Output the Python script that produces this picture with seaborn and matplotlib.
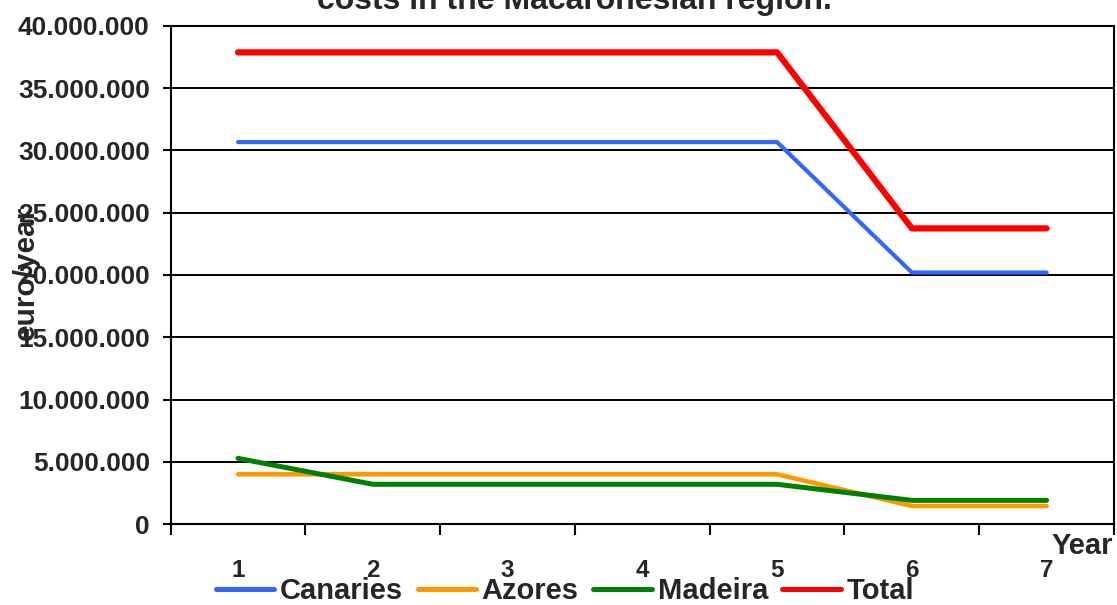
import matplotlib
matplotlib.use("Agg")
import matplotlib.pyplot as plt
import matplotlib.ticker as mticker
import seaborn as sns
import pandas as pd

years = [1, 2, 3, 4, 5, 6, 7]
canaries = [30660000, 30660000, 30660000, 30660000, 30660000, 20200000, 20200000]
azores = [4010000, 4010000, 4010000, 4010000, 4010000, 1470000, 1470000]
madeira = [5290000, 3210000, 3210000, 3210000, 3210000, 1920000, 1920000]
total = [37860000, 37860000, 37860000, 37860000, 37860000, 23740000, 23740000]
series_names = ["Canaries", "Azores", "Madeira", "Total"]
title_text = "costs in the Macaronesian region."
y_label = "euro/year"
x_label = "Year"

colors = {"Canaries": "#3366FF", "Azores": "#FF9900", "Madeira": "#008000", "Total": "#FF0000"}
widths = {"Canaries": 3.0, "Azores": 3.3, "Madeira": 3.6, "Total": 4.5}

rows = []
for name, vals in zip(series_names, [canaries, azores, madeira, total]):
    for y, v in zip(years, vals):
        rows.append({"Year": y, "value": v, "series": name})
df = pd.DataFrame(rows)

sns.set_style("white")
plt.rcParams["font.family"] = ["Liberation Sans", "DejaVu Sans"]
plt.rcParams["font.weight"] = "bold"

fig = plt.figure(figsize=(11.17, 6.05), dpi=100)
ax = fig.add_axes([170.7 / 1117, (605 - 524.3) / 605, (1114 - 170.7) / 1117, (524.3 - 25.7) / 605])

for name in series_names:
    sub = df[df["series"] == name]
    sns.lineplot(data=sub, x="Year", y="value", ax=ax, color=colors[name],
                 linewidth=widths[name], solid_capstyle="round", solid_joinstyle="round",
                 label=name, sort=False, legend=False)

ax.set_xlim(0.5, 7.5)
ax.set_ylim(0, 40000000)
ax.set_yticks(range(0, 40000001, 5000000))
ax.yaxis.set_major_formatter(mticker.FuncFormatter(lambda v, p: f"{v:,.0f}".replace(",", ".")))
ax.yaxis.grid(True, color="black", linewidth=1.4)
ax.set_axisbelow(True)

ax.set_xticks(years)
ax.set_xticklabels([str(y) for y in years])
ax.set_xticks([x + 0.5 for x in [0] + years], minor=True)
ax.tick_params(axis="x", which="major", length=0, pad=25, labelsize=17.5)
ax.tick_params(axis="x", which="minor", length=8, width=1.5, direction="out", color="black", bottom=True)
ax.tick_params(axis="y", which="major", length=6, width=1.5, direction="out", color="black",
               pad=9, labelsize=19, left=True)
for lab in ax.get_xticklabels() + ax.get_yticklabels():
    lab.set_fontweight("bold")

for s in ax.spines.values():
    s.set_visible(True)
    s.set_color("black")
    s.set_linewidth(1.5)

ax.set_xlabel("")
ax.set_ylabel("")

fig.text(26 / 1117, 1 - 273 / 605, y_label, rotation=90, ha="center", va="center",
         fontsize=21.5, fontweight="bold")
fig.text(1113 / 1117, 1 - 546 / 605, x_label, ha="right", va="center",
         fontsize=21, fontweight="bold")
fig.text(574 / 1117, 1 - 8.5 / 605, title_text, ha="center", va="baseline",
         fontsize=23, fontweight="bold")

handles, labels = ax.get_legend_handles_labels()
leg = fig.legend(handles, labels, loc="center", bbox_to_anchor=(565 / 1117, 1 - 591 / 605),
                 ncol=4, frameon=False, handlelength=2.0, handletextpad=0.2,
                 columnspacing=0.5, prop={"size": 21, "weight": "bold"})
for line in leg.get_lines():
    line.set_linewidth(3.6)
    line.set_solid_capstyle("round")

fig.savefig("out.png", dpi=100)
